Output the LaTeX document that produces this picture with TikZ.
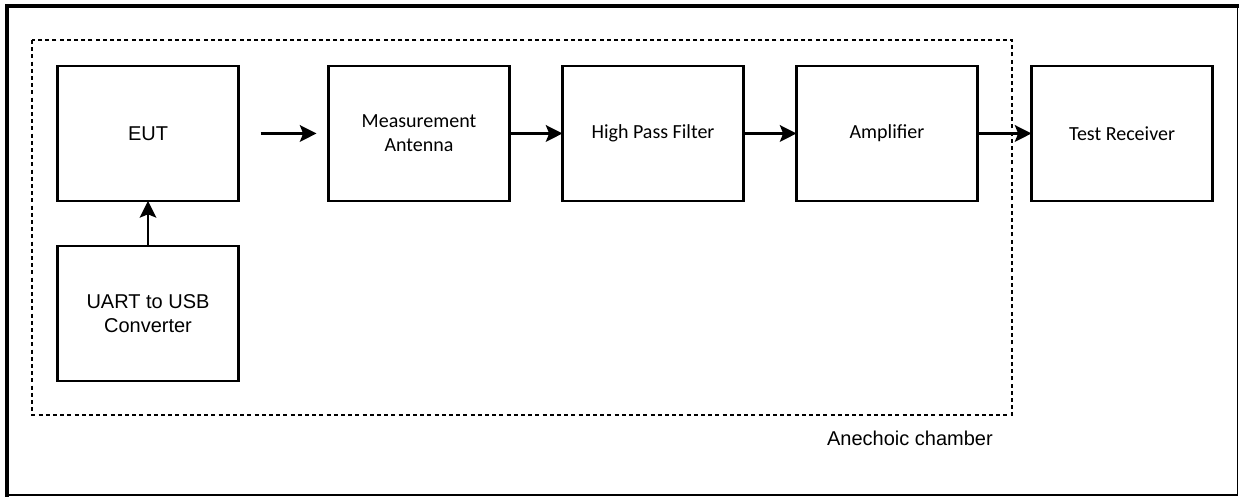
\documentclass[tikz,border=0pt]{standalone}
\usepackage{fontspec}
\setmainfont{Liberation Sans}
\newfontfamily\calfont{Carlito}
\usetikzlibrary{positioning,arrows.meta,calc}
\tikzset{
  blk/.style={draw, line width=1.6pt, outer sep=0pt, inner sep=2pt, minimum width=135.75pt, minimum height=101.25pt, align=center, font=\calfont\fontsize{15}{18}\selectfont},
  blka/.style={blk, font=\fontsize{15}{18}\selectfont},
  sig/.style={-{Stealth[length=12.5pt, width=12.5pt, inset=2.5pt]}, line width=1.7pt},
  chamber/.style={line width=1.6pt, dash pattern=on 3pt off 2.4pt},
}

\begin{document}
\begin{tikzpicture}[node distance=39.75pt]
\useasboundingbox (0,0) rectangle (930.75pt,-372pt);
% outer frame
\draw[line width=1.2pt] (5.25pt,-4.5pt) rectangle (928.1pt,-371.25pt);
\draw[line width=3pt, line cap=rect] (5.25pt,-371.25pt) |- (928.1pt,-4.5pt);
% chamber
\coordinate (chnw) at (24pt,-30pt);
\coordinate (chse) at (759pt,-311.25pt);
\draw[chamber] (chnw) rectangle (chse);
\node[anchor=base east, inner sep=0pt, font=\fontsize{15}{18}\selectfont] (chlbl) at ($(chse)+(-14.25pt,-22.5pt)$) {Anechoic chamber};
% blocks
\node[blka] (eut) at (111pt,-100.1pt) {EUT};
\node[blka, below=33.75pt of eut] (uart) {UART to USB\\Converter};
\node[blk, right=67.5pt of eut] (meas) {Measurement\\Antenna};
\node[blk, right=of meas] (hpf) {High Pass Filter};
\node[blk, right=of hpf] (amp) {Amplifier};
\node[blk, right=40.5pt of amp] (rcv) {Test Receiver};
% signal path
\draw[sig] (uart) -- (eut);
\draw[sig, shorten <=16.5pt, shorten >=9pt] (eut) -- (meas);
\draw[sig] (meas) -- (hpf);
\draw[sig] (hpf) -- (amp);
\draw[sig] (amp) -- (rcv);
\end{tikzpicture}
\end{document}
